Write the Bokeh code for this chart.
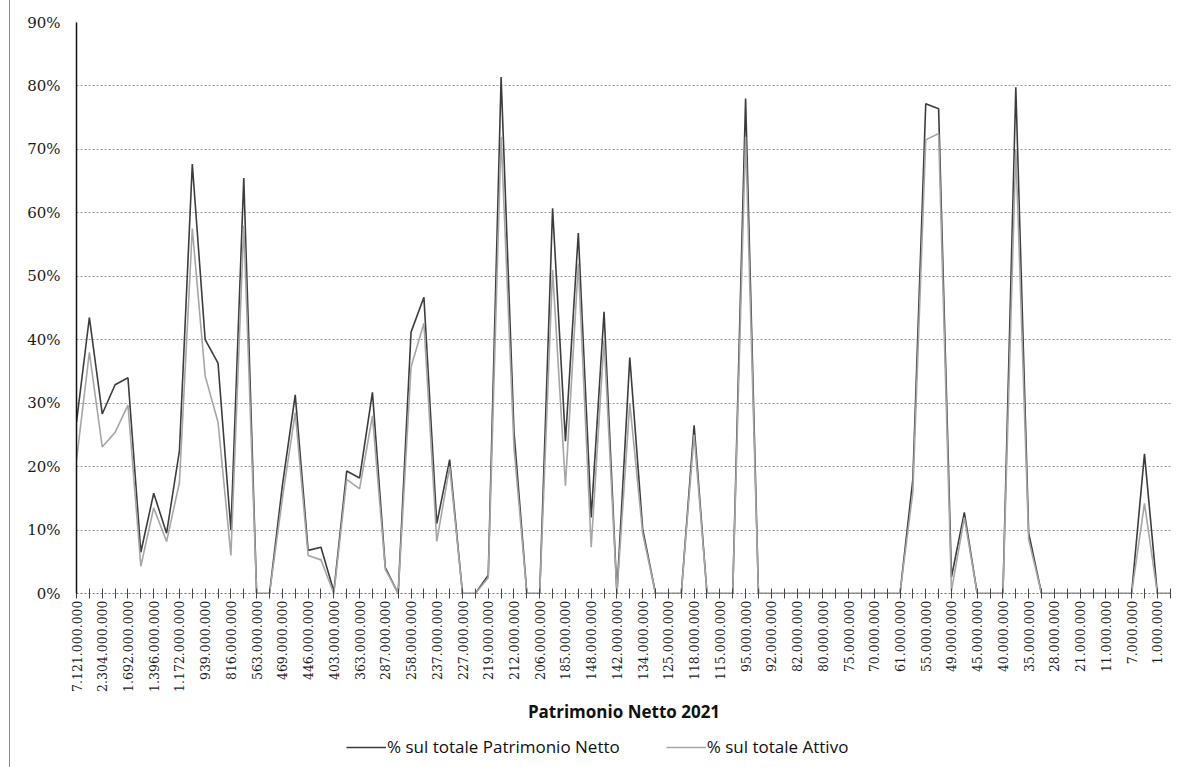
import numpy as np
from bokeh.plotting import figure
from bokeh.layouts import column
from bokeh.models import Range1d, FixedTicker, Legend, LegendItem
from bokeh.embed import file_html
from bokeh.resources import INLINE

# Tick labels (shown on every other category)
labels = [
    "7.121.000.000", "2.304.000.000", "1.692.000.000", "1.396.000.000", "1.172.000.000",
    "939.000.000", "816.000.000", "563.000.000", "469.000.000", "446.000.000",
    "403.000.000", "363.000.000", "287.000.000", "258.000.000", "237.000.000",
    "227.000.000", "219.000.000", "212.000.000", "206.000.000", "185.000.000",
    "148.000.000", "142.000.000", "134.000.000", "125.000.000", "118.000.000",
    "115.000.000", "95.000.000", "92.000.000", "82.000.000", "80.000.000",
    "75.000.000", "70.000.000", "61.000.000", "55.000.000", "49.000.000",
    "45.000.000", "40.000.000", "35.000.000", "28.000.000", "21.000.000",
    "11.000.000", "7.000.000", "1.000.000",
]

# % sul totale Patrimonio Netto
pn = [
    27, 43.5, 28.3, 32.9, 34, 6.5, 15.8, 9.5, 22.5, 67.7,
    40, 36.3, 10, 65.5, 0, 0, 17, 31.3, 6.8, 7.3,
    0.3, 19.3, 18.2, 31.7, 4.1, 0, 41.2, 46.7, 11, 21.1,
    0, 0, 2.9, 81.4, 25.5, 0, 0, 60.7, 24, 56.8,
    12, 44.4, 0, 37.2, 10.2, 0, 0, 0, 26.5, 0,
    0, 0, 78, 0, 0, 0, 0, 0, 0, 0,
    0, 0, 0, 0, 0, 18, 77.2, 76.4, 2.6, 12.8,
    0, 0, 0, 79.8, 9.5, 0, 0, 0, 0, 0,
    0, 0, 0, 22, 0, 0,
]

# % sul totale Attivo
att = [
    21, 38, 23.1, 25.4, 29.7, 4.3, 13.5, 8.2, 17.5, 57.5,
    34.3, 27, 6, 58, 0, 0, 15, 28.5, 6, 5.3,
    0, 18, 16.5, 28, 3.8, 0, 35.7, 42.6, 8.2, 20,
    0, 0, 2.5, 72, 23, 0, 0, 51, 17, 52,
    7.3, 40, 0, 30, 9.5, 0, 0, 0, 25, 0,
    0, 0, 72, 0, 0, 0, 0, 0, 0, 0,
    0, 0, 0, 0, 0, 16, 71.5, 72.5, 0.4, 12,
    0, 0, 0, 70, 8.5, 0, 0, 0, 0, 0,
    0, 0, 0, 14.2, 0, 0,
]

series_names = ["% sul totale Patrimonio Netto", "% sul totale Attivo"]
series_colors = ["#3c3c3c", "#a6a6a6"]

x = list(range(len(pn)))
yticks = list(range(0, 91, 10))

p = figure(width=1162, height=728, output_backend="svg", toolbar_location=None,
           x_range=Range1d(0, len(pn) - 0.9), y_range=Range1d(0, 90),
           min_border_left=66, min_border_right=1, min_border_top=22,
           min_border_bottom=135, background_fill_color="white",
           border_fill_color="white")
p.outline_line_color = None

r_pn = p.line(x, pn, line_color=series_colors[0], line_width=1.6)
r_att = p.line(x, att, line_color=series_colors[1], line_width=1.6)

# Y axis
p.yaxis.ticker = FixedTicker(ticks=yticks)
p.yaxis.major_label_overrides = {v: f"{v}%" for v in yticks}
p.yaxis.major_label_text_font = "DejaVu Serif"
p.yaxis.major_label_text_font_size = "15px"
p.yaxis.major_label_text_color = "#1a1a1a"
p.yaxis.major_label_standoff = 16
p.yaxis.major_tick_out = 0
p.yaxis.major_tick_in = 0
p.yaxis.minor_tick_out = 0
p.yaxis.minor_tick_in = 0
p.yaxis.axis_line_color = "#111111"
p.yaxis.axis_line_width = 1.5

# X axis
p.xaxis.ticker = FixedTicker(ticks=x)
p.xaxis.major_label_overrides = {i: (labels[i // 2] if i % 2 == 0 else "") for i in x}
p.xaxis.major_label_orientation = np.pi / 2
p.xaxis.major_label_text_font = "DejaVu Serif"
p.xaxis.major_label_text_font_size = "12.5px"
p.xaxis.major_label_text_color = "#1a1a1a"
p.xaxis.major_label_standoff = 2
p.xaxis.major_tick_in = 5
p.xaxis.major_tick_out = 5
p.xaxis.major_tick_line_color = "#444444"
p.xaxis.minor_tick_out = 0
p.xaxis.minor_tick_in = 0
p.xaxis.axis_line_color = "#777777"
p.xaxis.axis_line_dash = "2 2"
p.xaxis.axis_label = "Patrimonio Netto 2021"
p.xaxis.axis_label_text_font = "Open Sans"
p.xaxis.axis_label_text_font_style = "bold"
p.xaxis.axis_label_text_font_size = "17px"
p.xaxis.axis_label_text_color = "#111111"
p.xaxis.axis_label_standoff = 5

# Grid
p.xgrid.visible = False
p.ygrid.ticker = FixedTicker(ticks=yticks[1:])
p.ygrid.grid_line_color = "#999999"
p.ygrid.grid_line_dash = "2 2"
p.ygrid.grid_line_width = 1

# Legend in its own strip below the chart
lf = figure(width=1162, height=39, output_backend="svg", toolbar_location=None,
            x_range=Range1d(0, 1), y_range=Range1d(0, 1),
            x_axis_location=None, y_axis_location=None,
            min_border_left=0, min_border_right=0, min_border_top=0,
            min_border_bottom=0, background_fill_color="white",
            border_fill_color="white")
lf.outline_line_color = None
lf.grid.visible = False
lr = [lf.line([-5, -4], [-5, -4], line_color=c, line_width=1.6) for c in series_colors]

legend = Legend(items=[LegendItem(label=n, renderers=[r]) for n, r in zip(series_names, lr)],
                orientation="horizontal", location=(270, 9))
legend.label_text_font = "Open Sans"
legend.label_text_font_size = "17px"
legend.label_text_color = "#111111"
legend.glyph_width = 40
legend.label_standoff = 1
legend.spacing = 46
legend.border_line_color = None
legend.background_fill_alpha = 0
legend.margin = 0
legend.padding = 4
lf.add_layout(legend, "center")

layout = column(p, lf, spacing=0,
                styles={"border-left": "1px solid #8a8a8a", "margin-left": "9px"})

open("out.html", "w").write(file_html(layout, INLINE))
